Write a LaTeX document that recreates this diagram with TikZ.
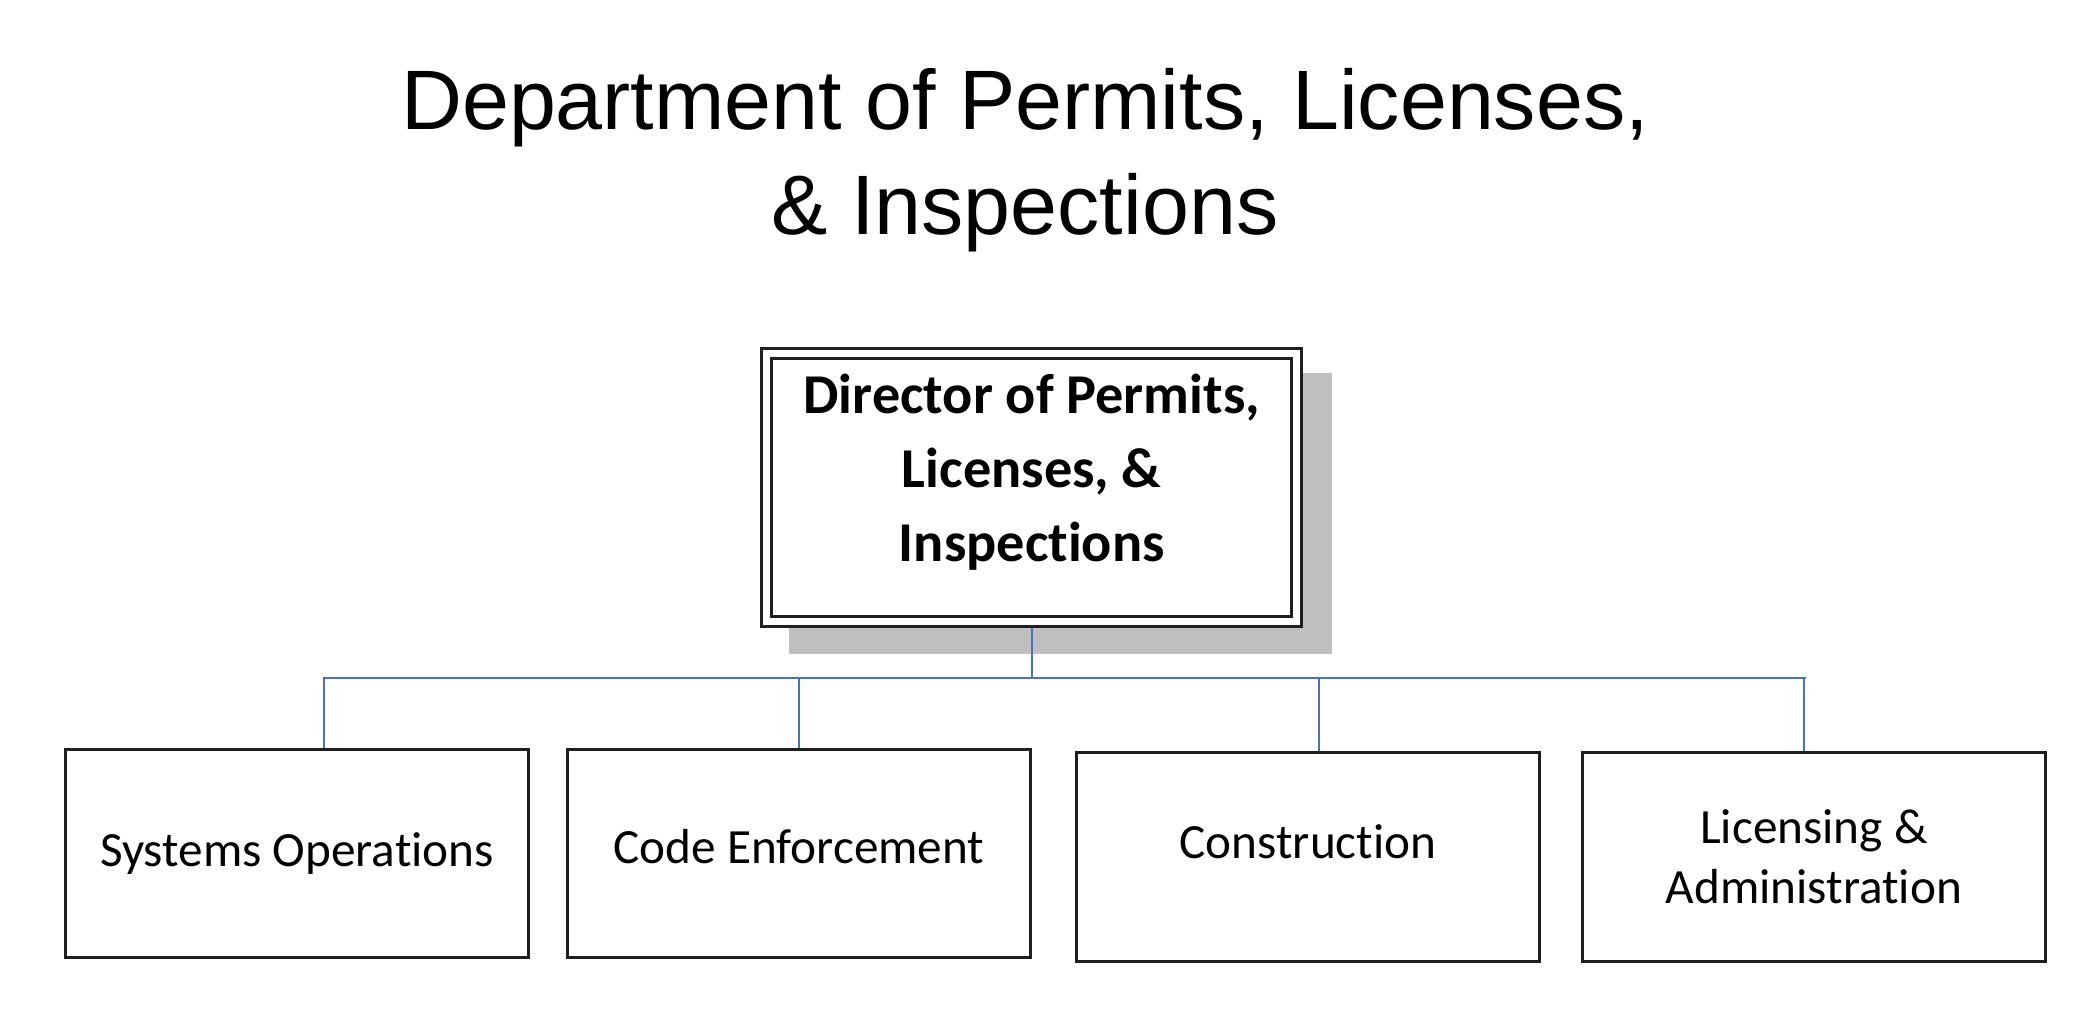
\documentclass[tikz,border=0pt]{standalone}
\usepackage{fontspec}
\setmainfont{Liberation Sans}
\newfontfamily\unitfont[Ligatures=NoCommon]{Carlito}
\usetikzlibrary{calc,backgrounds}
\definecolor{linkblue}{RGB}{68,114,196}
\definecolor{shadowgray}{RGB}{191,191,191}
\definecolor{edge}{RGB}{30,30,30}
\newcommand{\lift}[2]{\raisebox{#1}[\height][\depth]{#2}}
\begin{document}
\begin{tikzpicture}[x=0.01cm,y=-0.01cm,
        heading/.style={anchor=base,font=\fontsize{24}{29}\selectfont},
        chief/.style={draw=edge,line width=0.85pt,double=white,double distance=0.07cm,fill=white,
            minimum width=5.295cm,minimum height=2.675cm,inner sep=0pt,outer sep=0.065cm},
        unit/.style={draw=edge,line width=0.85pt,minimum width=4.62cm,minimum height=2.08cm,
            inner sep=0pt,align=center,font=\unitfont\fontsize{14}{17}\selectfont},
        link/.style={draw=linkblue,line width=0.6pt}]
    \useasboundingbox (0,0) rectangle (2100,1008);
    \node[heading] (titletop) at (1025,129) {Department of Permits, Licenses,};
    \node[heading] (titlebot) at (1025,234) {\& Inspections};
    \node[chief] (dir) at (1031.75,487.25) {};
    \node[align=center,font=\unitfont\bfseries\fontsize{16}{21}\selectfont,yshift=0.15cm] (dirtext) at (dir)
        {Director of Permits,\\Licenses, \&\\Inspections};
    \begin{scope}[on background layer]
        \fill[shadowgray] ($(dir.north west)+(29,26)$) rectangle ($(dir.south east)+(29,26)$);
    \end{scope}
    \node[unit] (sysops) at (297,853.5) {Systems Operations};
    \node[unit] (codeenf) at (799,853.5) {\lift{0.07cm}{Code Enforcement}};
    \node[unit] (constr) at (1308,857) {\lift{0.15cm}{Construction}};
    \node[unit] (licadm) at (1814,857) {Licensing \&\\Administration};
    \coordinate (busL) at (323,678);
    \coordinate (busR) at (1806,678);
    \draw[link] (dir.south) -- (dir.south |- busL);
    \draw[link] (busL) -- (busR);
    \foreach \n/\x in {sysops/324,codeenf/799,constr/1319,licadm/1804}
        \draw[link] (\x,678) -- (\n.north -| \x,0);
\end{tikzpicture}
\end{document}
